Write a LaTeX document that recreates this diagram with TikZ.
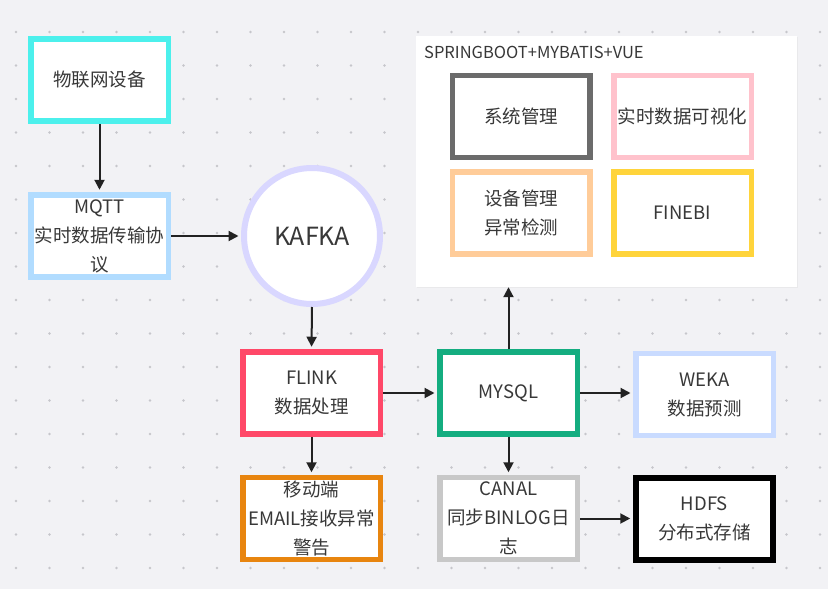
\documentclass[tikz,border=0pt]{standalone}
\usepackage{fontspec}
\setmainfont{Noto Sans CJK SC}
\usetikzlibrary{arrows.meta,shadows}
\definecolor{bgc}{HTML}{F2F2F5}
\definecolor{dotc}{HTML}{C6C6CB}
\definecolor{txt}{HTML}{383838}
\definecolor{cyanc}{HTML}{4CF0EC}
\definecolor{mqttc}{HTML}{B1DCFF}
\definecolor{kafkac}{HTML}{D9D7FF}
\definecolor{sysc}{HTML}{6B6B6B}
\definecolor{pinkc}{HTML}{FFC2CC}
\definecolor{peachc}{HTML}{FFCC99}
\definecolor{goldc}{HTML}{FFD43B}
\definecolor{flinkc}{HTML}{FF4868}
\definecolor{mysqlc}{HTML}{14AD80}
\definecolor{wekac}{HTML}{C9DBFF}
\definecolor{orangec}{HTML}{E8850F}
\definecolor{canalc}{HTML}{C8C8C8}
\definecolor{arrc}{HTML}{222222}
\begin{document}
\begin{tikzpicture}[x=1pt,y=-1pt,
  box/.style={draw, fill=white, line width=5.5pt, minimum width=137.5pt, minimum height=82pt,
    inner sep=0pt, align=center, text=txt, font=\fontsize{18.5}{29}\selectfont},
  conn/.style={draw=arrc, line width=2pt, -{Triangle[length=10pt,width=10pt]}, shorten >=2.5pt}
]
\useasboundingbox (0,0) rectangle (828,589);
\fill[bgc] (0,0) rectangle (828,589);
\foreach \i in {0,...,24}{
  \foreach \j in {0,...,16}{
    \fill[dotc] ({16+33.5*\i},{32+33.5*\j}) circle (1.3);
  }
}
% panel
\node[fill=white, minimum width=381pt, minimum height=251pt, inner sep=0pt,
  drop shadow={opacity=0.08, shadow xshift=0.5pt, shadow yshift=-1pt}] (panel) at (606.5,161.5) {};
\node[anchor=west, text=txt, font=\fontsize{16.5}{20}\selectfont, inner sep=0pt] (title) at (424,52) {SPRINGBOOT+MYBATIS+VUE};

\node[box, draw=cyanc] (iot) at (99.5,80) {物联网设备};
\node[box, draw=mqttc] (mqtt) at (99.5,236) {MQTT\\实时数据传输协\\议};
\node[draw=kafkac, fill=white, line width=6pt, circle, minimum size=136pt, inner sep=0pt,
  text=txt, font=\fontsize{25}{30}\selectfont] (kafka) at (312,236) {KAFKA};

\node[box, draw=sysc] (sys) at (521,116.5) {系统管理};
\node[box, draw=pinkc] (vis) at (682.5,116.5) {实时数据可视化};
\node[box, draw=peachc] (dev) at (521,213) {设备管理\\异常检测};
\node[box, draw=goldc] (finebi) at (682.5,213) {FINEBI};

\node[box, draw=flinkc] (flink) at (311.5,393) {FLINK\\数据处理};
\node[box, draw=mysqlc] (mysql) at (508.5,393) {MYSQL};
\node[box, draw=wekac] (weka) at (704.5,394.5) {WEKA\\数据预测};
\node[box, draw=orangec] (mobile) at (311.5,518.5) {移动端\\EMAIL接收异常\\警告};
\node[box, draw=canalc] (canal) at (508.5,518.5) {CANAL\\同步BINLOG日\\志};
\node[box, draw=black, line width=6pt] (hdfs) at (704.5,518.5) {HDFS\\分布式存储};

\draw[conn] (iot.south) -- (mqtt.north);
\draw[conn] (mqtt.east) -- (kafka.west);
\draw[conn] (kafka.south) -- (flink.north);
\draw[conn] (flink.east) -- (mysql.west);
\draw[conn] (mysql.east) -- (mysql.east -| weka.west);
\draw[conn] (flink.south) -- (mobile.north);
\draw[conn] (mysql.south) -- (canal.north);
\draw[conn] (canal.east) -- (hdfs.west);
\draw[conn, shorten >=0pt] (mysql.north) -- (mysql.north |- panel.south);
\end{tikzpicture}
\end{document}
